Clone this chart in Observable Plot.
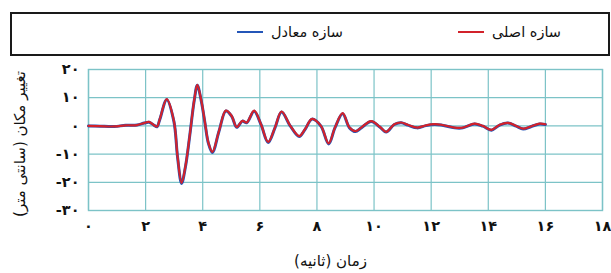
<!DOCTYPE html>
<html><head><meta charset="utf-8">
<script src="https://cdn.jsdelivr.net/npm/d3@7"></script>
<script src="https://cdn.jsdelivr.net/npm/@observablehq/plot@0.6"></script>
<style>
html,body{margin:0;padding:0;background:#fff;}
body{width:611px;height:273px;overflow:hidden;font-family:"DejaVu Sans",sans-serif;}
#legend{position:relative;height:60px;width:611px;}
#box{position:absolute;left:10px;top:12px;width:596px;height:40px;border:2px solid #1a1a1a;background:#fff;}
.item{position:absolute;top:22px;display:flex;align-items:center;direction:rtl;font-size:14.5px;color:#111;line-height:20px;white-space:nowrap;}
.swatch{display:inline-block;width:26px;height:2px;margin-right:8px;}
</style>
</head><body>
<div id="legend"><div id="box"></div></div>
<div id="chart"></div>
<script>
// Data
const seriesNames = ["سازه اصلی", "سازه معادل"];
const seriesColors = ["#d2222b", "#2456b8"];
const time = [0, 0.4, 0.9, 1.3, 1.7, 1.95, 2.12, 2.3, 2.4, 2.5, 2.74, 2.99, 3.12, 3.26, 3.4, 3.55, 3.7, 3.81, 3.95, 4.07, 4.2, 4.34, 4.57, 4.81, 5.01, 5.19, 5.39, 5.54, 5.8, 6.04, 6.29, 6.53, 6.76, 7.07, 7.38, 7.58, 7.83, 8.14, 8.41, 8.63, 8.9, 9.14, 9.35, 9.55, 9.9, 10.2, 10.42, 10.71, 10.95, 11.18, 11.51, 11.82, 12.12, 12.35, 12.82, 13.11, 13.52, 13.81, 14.11, 14.4, 14.69, 14.98, 15.22, 15.51, 15.8, 16.0];
const original = [0, -0.1, -0.2, 0.2, 0.3, 1.0, 1.4, 0.2, -0.2, 2.5, 9.5, 1.8, -11, -20.2, -14, -3, 9, 14.6, 9, 1.8, -6, -9.2, -1.8, 5.4, 3.6, -0.4, 1.8, 1.2, 5.4, 0.6, -5.7, -0.6, 5.1, 0, -3.6, -1.2, 2.5, 0, -6.2, -0.6, 4.5, -0.6, -1.9, -0.6, 1.7, -0.3, -2.1, 0.6, 1.2, 0.4, -0.6, 0.2, 0.6, 0.4, -0.6, -0.6, 0.8, 0, -1.4, 0.4, 1.1, 0, -1.0, -0.1, 0.8, 0.6];
const equivalent = [0, -0.1, -0.2, 0.2, 0.3, 1.0, 1.3, 0.2, -0.3, 2.4, 9.3, 1.6, -11.2, -20.4, -14.2, -3.1, 8.8, 14.4, 8.8, 1.6, -6.2, -9.4, -1.9, 5.3, 3.5, -0.5, 1.7, 1.1, 5.2, 0.5, -5.9, -0.7, 4.9, -0.1, -3.8, -1.3, 2.4, -0.1, -6.4, -0.7, 4.3, -0.7, -2.0, -0.7, 1.6, -0.4, -2.2, 0.5, 1.1, 0.3, -0.7, 0.1, 0.5, 0.3, -0.7, -0.7, 0.7, -0.1, -1.5, 0.3, 1.0, -0.1, -1.1, -0.2, 0.7, 0.5];
const xTicks = [0, 2, 4, 6, 8, 10, 12, 14, 16, 18];
const xTickLabels = ["۰", "۲", "۴", "۶", "۸", "۱۰", "۱۲", "۱۴", "۱۶", "۱۸"];
const yTicks = [20, 10, 0, -10, -20, -30];
const yTickLabels = ["۲۰", "۱۰", "۰", "-۱۰", "-۲۰", "-۳۰"];
const xLabel = "زمان (ثانیه)";
const yLabel = "تغییر مکان (سانتی متر)";

const RLM = "\u200F";

// Legend
const legend = document.getElementById("legend");
const legendRight = [50, 268];
seriesNames.forEach((name, i) => {
  const d = document.createElement("div");
  d.className = "item";
  d.style.right = legendRight[i] + "px";
  const t = document.createElement("span");
  t.textContent = name;
  const s = document.createElement("span");
  s.className = "swatch";
  s.style.background = seriesColors[i];
  d.appendChild(t); d.appendChild(s);
  legend.appendChild(d);
});

const rowsE = time.map((t, i) => ({t, v: equivalent[i]}));
const rowsO = time.map((t, i) => ({t, v: original[i]}));

const grid = "#7cc3c7";
const font = "DejaVu Sans";
const plot = Plot.plot({
  width: 611,
  height: 213,
  marginLeft: 88,
  marginRight: 9,
  marginTop: 9,
  marginBottom: 63,
  style: {fontFamily: font, background: "#fff"},
  x: {domain: [0, 18], ticks: xTicks, label: null},
  y: {domain: [-30, 20], ticks: yTicks, label: null},
  marks: [
    Plot.gridX(xTicks, {stroke: grid, strokeOpacity: 1, strokeWidth: 1.2}),
    Plot.gridY(yTicks, {stroke: grid, strokeOpacity: 1, strokeWidth: 1.2}),
    Plot.frame({stroke: grid, strokeWidth: 1.4}),
    Plot.axisX(xTicks, {tickSize: 0, tickPadding: 10, fontSize: 14.5, fontWeight: "bold", fill: "#111", label: null,
      tickFormat: d => xTickLabels[xTicks.indexOf(d)]}),
    Plot.axisY(yTicks, {tickSize: 0, tickPadding: 9, fontSize: 14.5, fontWeight: "bold", fill: "#111", label: null,
      tickFormat: d => yTickLabels[yTicks.indexOf(d)]}),
    Plot.line(rowsE, {x: "t", y: "v", stroke: seriesColors[1], strokeWidth: 3, curve: "catmull-rom"}),
    Plot.line(rowsO, {x: "t", y: "v", stroke: seriesColors[0], strokeWidth: 2.2, curve: "catmull-rom"}),
    Plot.text([RLM + xLabel + RLM], {frameAnchor: "bottom", dy: 55, dx: -15, fontSize: 15, fill: "#111", fontFamily: font, textAnchor: "middle"}),
    Plot.text([RLM + yLabel + RLM], {frameAnchor: "left", dx: -68, dy: 4, rotate: -90, fontSize: 15, fill: "#111", fontFamily: font, textAnchor: "middle"})
  ]
});
document.getElementById("chart").appendChild(plot);
</script>
</body></html>
